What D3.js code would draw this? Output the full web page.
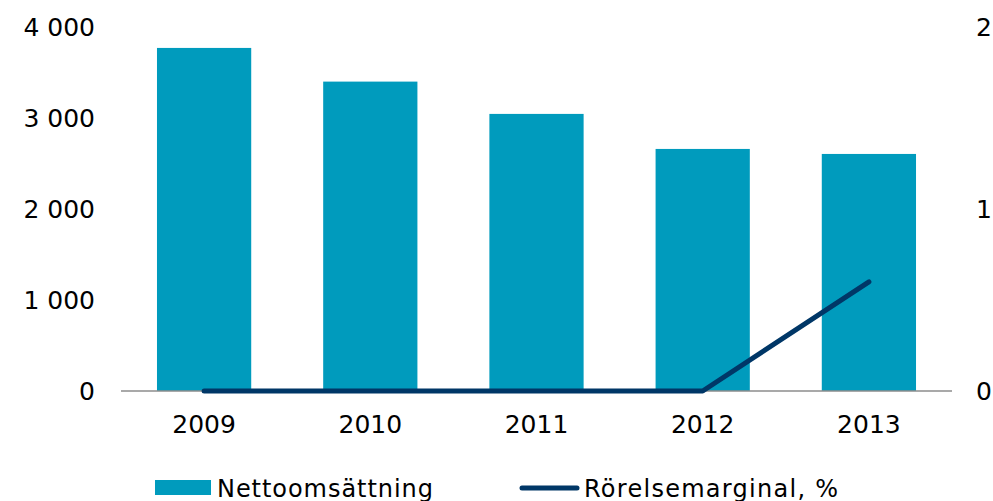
<!DOCTYPE html>
<meta charset="utf-8">
<script src="https://d3js.org/d3.v7.min.js"></script>
<style>
  body { margin: 0; background: #fff; }
  text { font-family: 'DejaVu Sans', Verdana, sans-serif; fill: #000; }
</style>
<div id="vis"></div>
<script>
  var years = ['2009', '2010', '2011', '2012', '2013'];
  var sales = [3770, 3400, 3045, 2660, 2605];      // Nettoomsättning
  var margin_pct = [0, 0, 0, 0, 0.6];              // Rörelsemarginal, %
  var leftTicks = [0, 1000, 2000, 3000, 4000];
  var rightTicks = [0, 1, 2];

  var W = 993, H = 501;
  var pLeft = 121, pRight = 952, pTop = 27, pBottom = 391;

  var svg = d3.select('#vis').append('svg')
    .attr('width', W).attr('height', H);

  var x = d3.scaleBand()
    .domain(years)
    .range([pLeft, pRight])
    .paddingInner(0.433)
    .paddingOuter(0.2165);

  var y = d3.scaleLinear().domain([0, 4000]).range([pBottom, pTop]);
  var y2 = d3.scaleLinear().domain([0, 2]).range([pBottom, pTop]);

  var fmt = function(d) { return d3.format(',')(d).replace(/,/g, ' '); };

  // bars
  svg.append('g').selectAll('rect')
    .data(sales)
    .enter().append('rect')
    .attr('x', function(d, i) { return x(years[i]); })
    .attr('y', function(d) { return y(d); })
    .attr('width', x.bandwidth())
    .attr('height', function(d) { return y(0) - y(d); })
    .style('fill', '#009bbd');

  // x axis line
  svg.append('line')
    .attr('x1', pLeft).attr('x2', pRight)
    .attr('y1', pBottom).attr('y2', pBottom)
    .attr('stroke', '#8c8c8c').attr('stroke-width', 1.5);

  // left axis
  var gl = svg.append('g')
    .attr('transform', 'translate(' + (pLeft - 26) + ',0)')
    .call(d3.axisLeft(y).tickValues(leftTicks).tickSize(0).tickPadding(0).tickFormat(fmt));
  gl.select('.domain').remove();

  // right axis
  var gr = svg.append('g')
    .attr('transform', 'translate(' + (pRight + 24) + ',0)')
    .call(d3.axisRight(y2).tickValues(rightTicks).tickSize(0).tickPadding(0).tickFormat(d3.format('d')));
  gr.select('.domain').remove();

  // bottom axis
  var gb = svg.append('g')
    .attr('transform', 'translate(0,' + (pBottom + 24) + ')')
    .call(d3.axisBottom(x).tickSize(0).tickPadding(0));
  gb.select('.domain').remove();

  svg.selectAll('.tick text')
    .style('font-size', '25px')
    .style('font-family', "'DejaVu Sans', Verdana, sans-serif")
    .attr('fill', '#000');

  // line
  var line = d3.line()
    .x(function(d, i) { return x(years[i]) + x.bandwidth() / 2; })
    .y(function(d) { return y2(d); });

  svg.append('path')
    .datum(margin_pct)
    .attr('d', line)
    .attr('fill', 'none')
    .attr('stroke', '#003767')
    .attr('stroke-width', 5)
    .attr('stroke-linecap', 'round')
    .attr('stroke-linejoin', 'round');

  // legend
  var lg = svg.append('g');
  lg.append('rect')
    .attr('x', 155).attr('y', 480).attr('width', 56).attr('height', 15)
    .style('fill', '#009bbd');
  lg.append('text')
    .attr('x', 217).attr('y', 497)
    .style('font-size', '24px')
    .attr('textLength', 216)
    .text('Nettoomsättning');
  lg.append('line')
    .attr('x1', 522).attr('x2', 577).attr('y1', 488).attr('y2', 488)
    .attr('stroke', '#003767').attr('stroke-width', 5)
    .attr('stroke-linecap', 'round');
  lg.append('text')
    .attr('x', 584).attr('y', 497)
    .style('font-size', '24px')
    .attr('textLength', 254)
    .text('Rörelsemarginal, %');
</script>
